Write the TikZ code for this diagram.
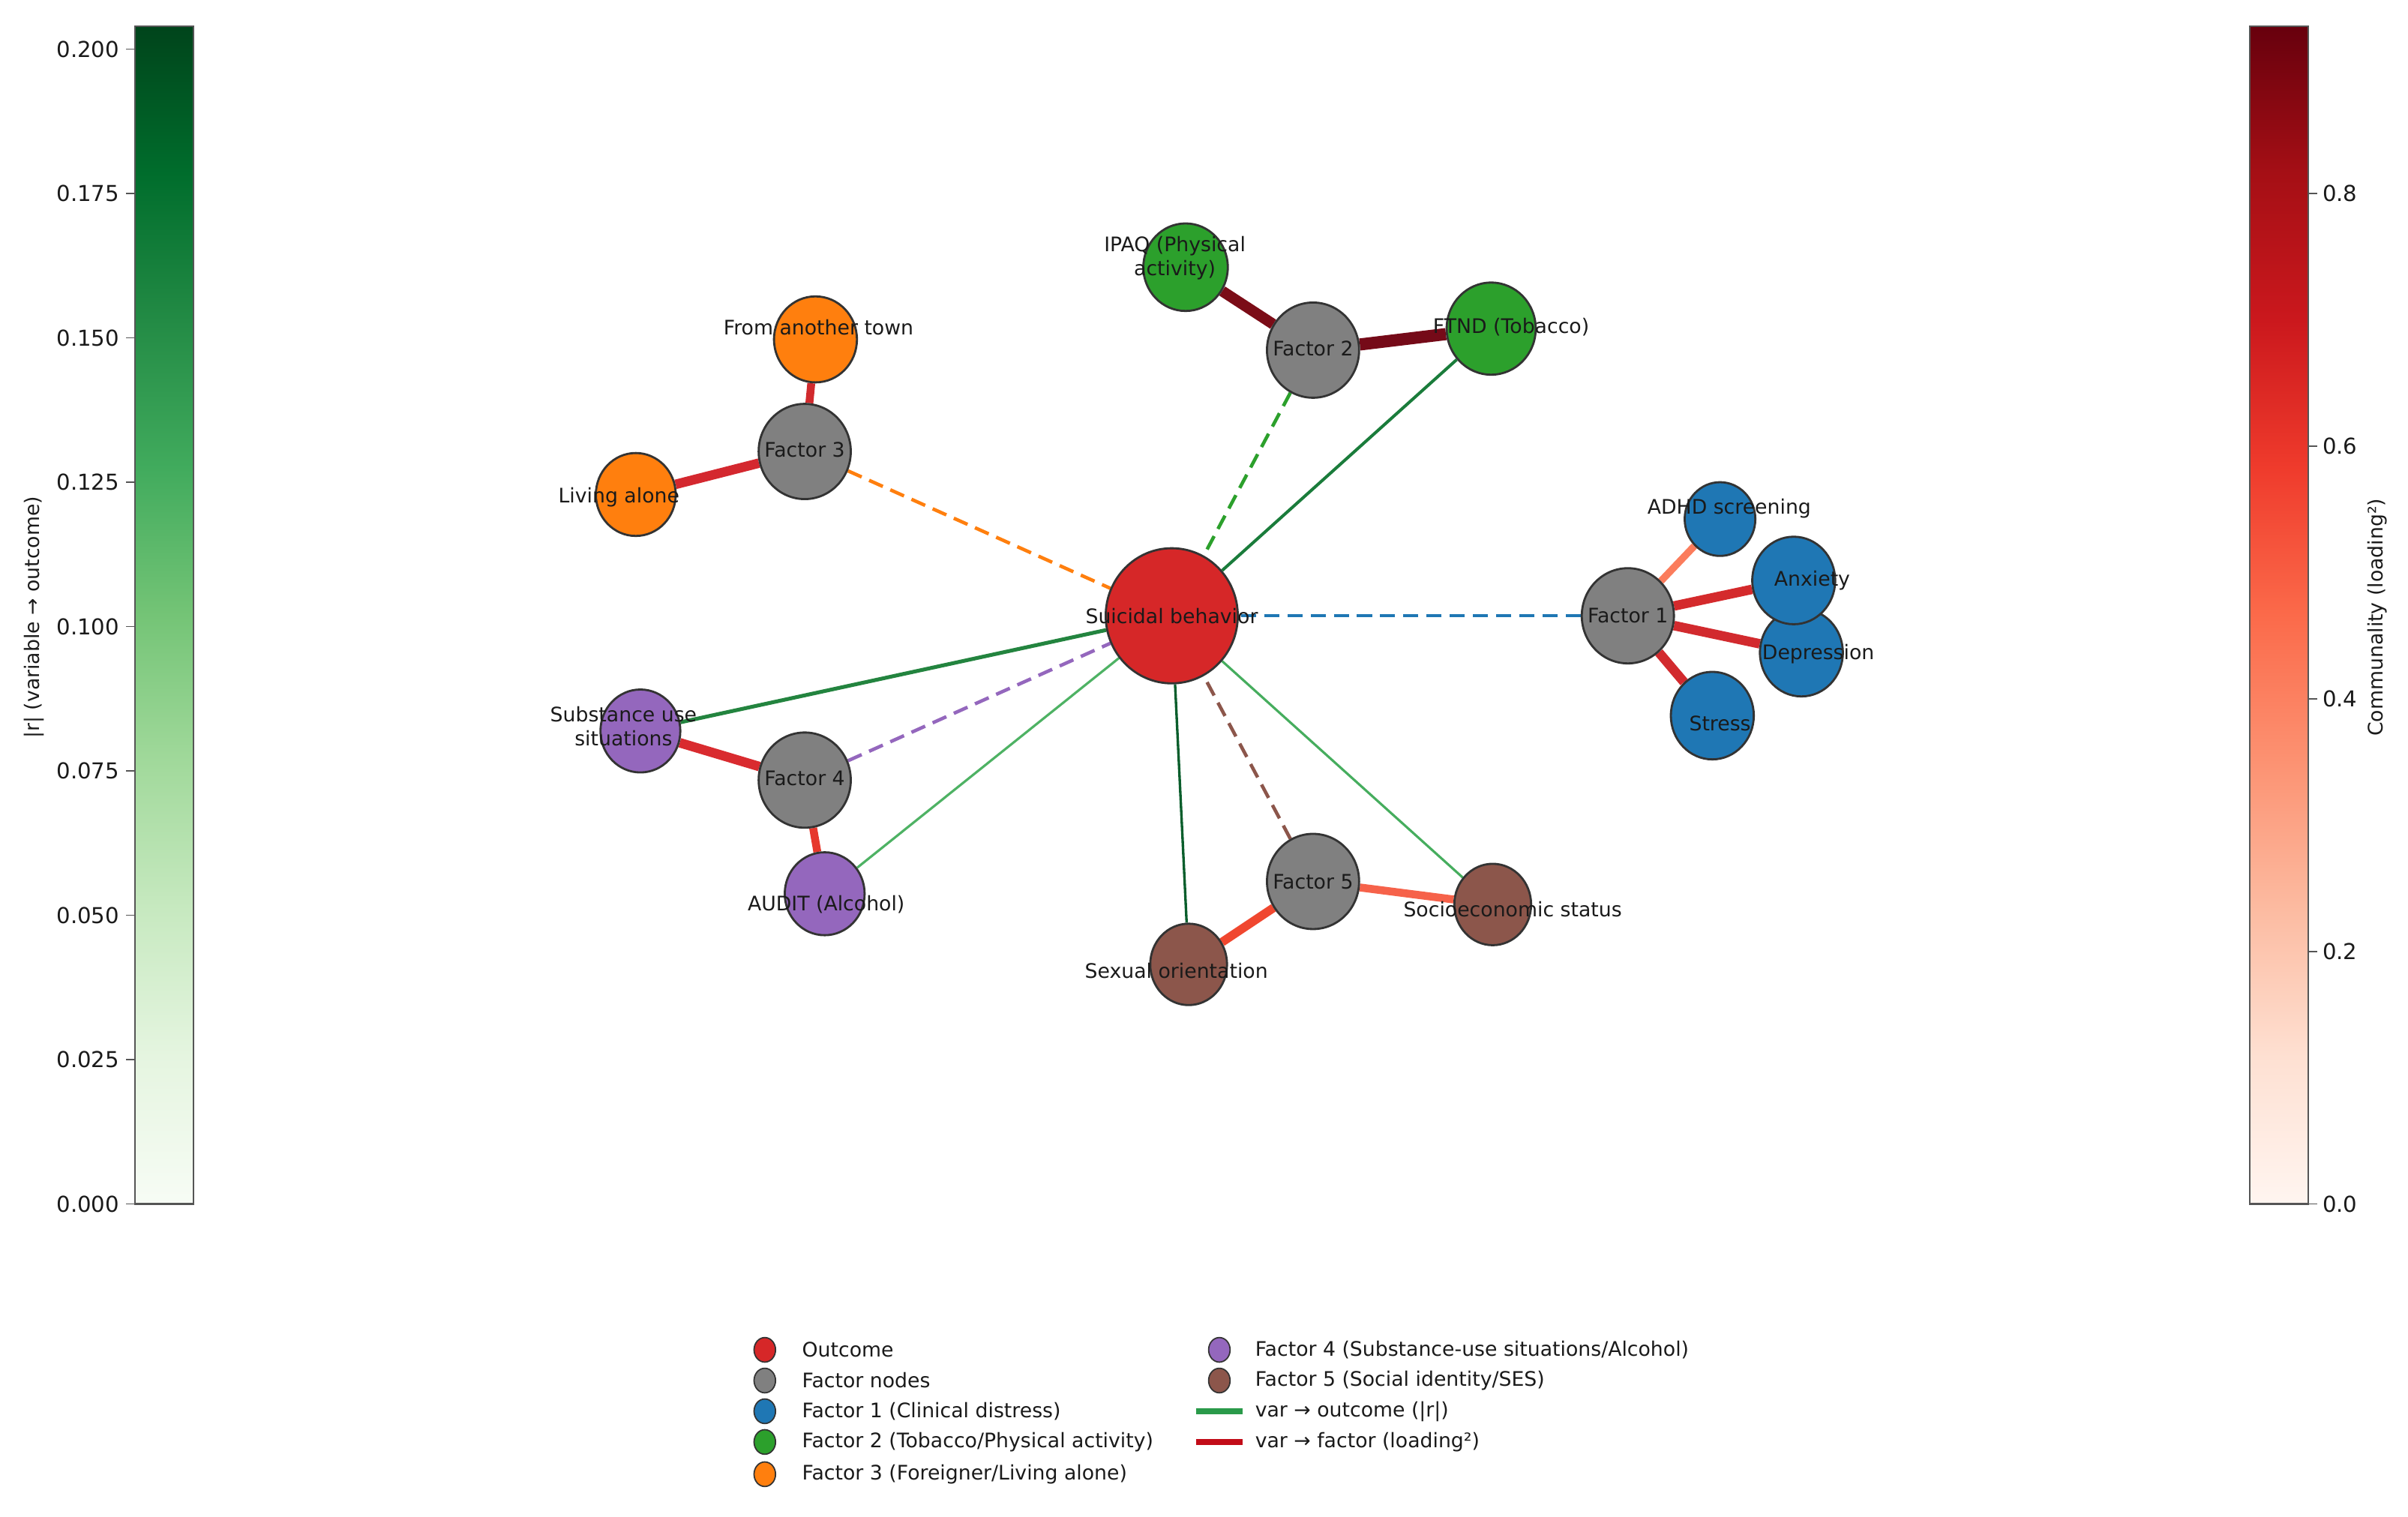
\documentclass[tikz,border=0pt]{standalone}
\usepackage{fontspec}
\setmainfont{DejaVu Sans}
\usetikzlibrary{shapes.geometric}
\pgfdeclarelayer{bg}
\pgfsetlayers{bg,main}
% node colours
\definecolor{outred}{HTML}{D62728}
\definecolor{facgray}{HTML}{808080}
\definecolor{fblue}{HTML}{1F77B4}
\definecolor{fgreen}{HTML}{2CA02C}
\definecolor{forange}{HTML}{FF7F0E}
\definecolor{fpurple}{HTML}{9467BD}
\definecolor{fbrown}{HTML}{8C564B}
\definecolor{nodeedge}{HTML}{333333}
% Greens
\definecolor{gA}{HTML}{F7FCF5}\definecolor{gB}{HTML}{E5F5E0}\definecolor{gC}{HTML}{C7E9C0}
\definecolor{gD}{HTML}{A1D99B}\definecolor{gE}{HTML}{74C476}\definecolor{gF}{HTML}{41AB5D}
\definecolor{gG}{HTML}{238B45}\definecolor{gH}{HTML}{006D2C}\definecolor{gI}{HTML}{00441B}
% Reds
\definecolor{rA}{HTML}{FFF5F0}\definecolor{rB}{HTML}{FEE0D2}\definecolor{rC}{HTML}{FCBBA1}
\definecolor{rD}{HTML}{FC9272}\definecolor{rE}{HTML}{FB6A4A}\definecolor{rF}{HTML}{EF3B2C}
\definecolor{rG}{HTML}{CB181D}\definecolor{rH}{HTML}{A50F15}\definecolor{rI}{HTML}{67000D}
% edge colours
\definecolor{oeSub}{HTML}{23843F}
\definecolor{oeAudit}{HTML}{4EB264}
\definecolor{oeFtnd}{HTML}{1A7C3B}
\definecolor{oeSex}{HTML}{0A5E2C}
\definecolor{oeSes}{HTML}{46AD5E}
\definecolor{leIpaq}{HTML}{7B0C17}
\definecolor{leFtnd}{HTML}{750A18}
\definecolor{leTown}{HTML}{D12A2D}
\definecolor{leAlone}{HTML}{D4282F}
\definecolor{leAdhd}{HTML}{FB7C5C}
\definecolor{leAnx}{HTML}{D42A2C}
\definecolor{leDep}{HTML}{D22A2E}
\definecolor{leStress}{HTML}{D22A2E}
\definecolor{leSub}{HTML}{D92B2F}
\definecolor{leAudit}{HTML}{E6382D}
\definecolor{leSex}{HTML}{F0472F}
\definecolor{leSes}{HTML}{F6624A}
\definecolor{legG}{HTML}{2A9A4A}
\definecolor{legR}{HTML}{C20C18}
\definecolor{txt}{HTML}{1A1A1A}
\definecolor{cbedge}{HTML}{555555}

\pgfdeclareverticalshading{greensbar}{100bp}{color(0bp)=(gA); color(25bp)=(gA); color(31.25bp)=(gB); color(37.5bp)=(gC); color(43.75bp)=(gD); color(50bp)=(gE); color(56.25bp)=(gF); color(62.5bp)=(gG); color(68.75bp)=(gH); color(75bp)=(gI); color(100bp)=(gI)}
\pgfdeclareverticalshading{redsbar}{100bp}{color(0bp)=(rA); color(25bp)=(rA); color(31.25bp)=(rB); color(37.5bp)=(rC); color(43.75bp)=(rD); color(50bp)=(rE); color(56.25bp)=(rF); color(62.5bp)=(rG); color(68.75bp)=(rH); color(75bp)=(rI); color(100bp)=(rI)}

\tikzset{
  nd/.style={ellipse, draw=nodeedge, line width=0.8pt, inner sep=0pt},
  sz/.style 2 args={minimum width=#1*0.02048cm, minimum height=#2*0.02048cm},
  lbl/.style={font=\fontsize{7.6}{9.3}\selectfont, text=txt, align=center, inner sep=0pt},
  ticklbl/.style={font=\fontsize{8.3}{10}\selectfont, text=txt, inner sep=0pt},
  outedge/.style={line width=#1},
  loadedge/.style={line width=#1},
  facdash/.style={line width=1.3pt, dash pattern=on 5.7pt off 3.1pt},
  tickmark/.style={draw=cbedge, line width=0.5pt}
}

\begin{document}
\begin{tikzpicture}[x=0.02048cm, y=-0.02048cm]
\useasboundingbox (0,0) rectangle (1568,987.4);

% ---------------- colour bars ----------------
\shade[shading=greensbar] (88,17) rectangle (126,784);
\draw[cbedge, line width=0.6pt] (88,17) rectangle (126,784);
\foreach \v/\y in {0.000/784,0.025/690,0.050/596,0.075/502,0.100/408,0.125/314,0.150/220,0.175/126,0.200/32}{
  \draw[tickmark] (88,\y) -- (82,\y);
  \node[ticklbl, anchor=east] at (78,\y) {\v};
}
\node[lbl, rotate=90] (cbgl) at (22,402) {|r| (variable → outcome)};

\shade[shading=redsbar] (1465,17) rectangle (1503,784);
\draw[cbedge, line width=0.6pt] (1465,17) rectangle (1503,784);
\foreach \v/\y in {0.0/784,0.2/619.5,0.4/455,0.6/290.5,0.8/126}{
  \draw[tickmark] (1503,\y) -- (1509,\y);
  \node[ticklbl, anchor=west] at (1512,\y) {\v};
}
\node[lbl, rotate=90] (cbrl) at (1548,402) {Communality (loading²)};

% ---------------- nodes ----------------
\node[nd, sz={86}{88}, fill=outred] (sb) at (763,401) {};
\node[nd, sz={60}{62}, fill=facgray] (f1) at (1060,401) {};
\node[nd, sz={60}{62}, fill=facgray] (f2) at (855,228) {};
\node[nd, sz={60}{62}, fill=facgray] (f3) at (524,294) {};
\node[nd, sz={60}{62}, fill=facgray] (f4) at (524,508) {};
\node[nd, sz={60}{62}, fill=facgray] (f5) at (855,574) {};

\node[nd, sz={46}{48}, fill=fblue] (adhd) at (1120,338) {};
\node[nd, sz={54}{57}, fill=fblue] (dep) at (1173,425) {};
\node[nd, sz={54}{57}, fill=fblue] (anx) at (1168,378) {};
\node[nd, sz={54}{57}, fill=fblue] (stress) at (1115,466) {};

\node[nd, sz={55}{57}, fill=fgreen] (ipaq) at (772,174) {};
\node[nd, sz={58}{60}, fill=fgreen] (ftnd) at (971,214) {};

\node[nd, sz={54}{56}, fill=forange] (town) at (531,221) {};
\node[nd, sz={52}{54}, fill=forange] (alone) at (414,322) {};

\node[nd, sz={52}{54}, fill=fpurple] (sub) at (417,476) {};
\node[nd, sz={52}{54}, fill=fpurple] (audit) at (537,582) {};

\node[nd, sz={50}{53}, fill=fbrown] (sex) at (774,628) {};
\node[nd, sz={50}{53}, fill=fbrown] (ses) at (972,589) {};

% ---------------- edges ----------------
\begin{pgfonlayer}{bg}
  % variable -> outcome
  \draw[outedge=1.45pt, oeSub] (sub) -- (sb);
  \draw[outedge=0.9pt, oeAudit] (audit) -- (sb);
  \draw[outedge=1.15pt, oeFtnd] (ftnd) -- (sb);
  \draw[outedge=0.95pt, oeSex] (sex) -- (sb);
  \draw[outedge=0.9pt, oeSes] (ses) -- (sb);
  % factor -> outcome
  \draw[facdash, fblue] (f1) -- (sb);
  \draw[facdash, fgreen] (f2) -- (sb);
  \draw[facdash, forange] (f3) -- (sb);
  \draw[facdash, fpurple] (f4) -- (sb);
  \draw[facdash, fbrown] (f5) -- (sb);
  % variable -> factor
  \draw[loadedge=4.1pt, leIpaq] (f2) -- (ipaq);
  \draw[loadedge=4.6pt, leFtnd] (f2) -- (ftnd);
  \draw[loadedge=3.0pt, leTown] (f3) -- (town);
  \draw[loadedge=3.6pt, leAlone] (f3) -- (alone);
  \draw[loadedge=2.7pt, leAdhd] (f1) -- (adhd);
  \draw[loadedge=3.6pt, leAnx] (f1) -- (anx);
  \draw[loadedge=3.6pt, leDep] (f1) -- (dep);
  \draw[loadedge=3.6pt, leStress] (f1) -- (stress);
  \draw[loadedge=3.6pt, leSub] (f4) -- (sub);
  \draw[loadedge=3.0pt, leAudit] (f4) -- (audit);
  \draw[loadedge=3.3pt, leSex] (f5) -- (sex);
  \draw[loadedge=3.0pt, leSes] (f5) -- (ses);
\end{pgfonlayer}

% ---------------- labels ----------------
\node[lbl] (sbl) at (763,401) {Suicidal behavior};
\node[lbl] (f1l) at (1060,401) {Factor 1};
\node[lbl] (f2l) at (855,227) {Factor 2};
\node[lbl] (f3l) at (524,293) {Factor 3};
\node[lbl] (f4l) at (524,507) {Factor 4};
\node[lbl] (f5l) at (855,574) {Factor 5};
\node[lbl] (ipaql) at (765,168) {IPAQ (Physical\\activity)};
\node[lbl] (ftndl) at (984,213) {FTND (Tobacco)};
\node[lbl] (townl) at (533,213) {From another town};
\node[lbl] (alonel) at (403,324) {Living alone};
\node[lbl] (subl) at (406,473) {Substance use\\situations};
\node[lbl] (auditl) at (538,589) {AUDIT (Alcohol)};
\node[lbl] (sexl) at (766,632) {Sexual orientation};
\node[lbl] (sesl) at (985,592) {Socioeconomic status};
\node[lbl] (adhdl) at (1126,331) {ADHD screening};
\node[lbl] (anxl) at (1180,378) {Anxiety};
\node[lbl] (depl) at (1184,426) {Depression};
\node[lbl] (stressl) at (1120,471) {Stress};

% ---------------- legend ----------------
\node[nd, sz={14}{16}, line width=0.5pt, fill=outred] (lg1) at (498,879) {};
\node[nd, sz={14}{16}, line width=0.5pt, fill=facgray] (lg2) at (498,899) {};
\node[nd, sz={14}{16}, line width=0.5pt, fill=fblue] (lg3) at (498,919) {};
\node[nd, sz={14}{16}, line width=0.5pt, fill=fgreen] (lg4) at (498,939) {};
\node[nd, sz={14}{16}, line width=0.5pt, fill=forange] (lg5) at (498,960) {};
\node[nd, sz={14}{16}, line width=0.5pt, fill=fpurple] (lg6) at (794,879) {};
\node[nd, sz={14}{16}, line width=0.5pt, fill=fbrown] (lg7) at (794,899) {};
\coordinate (lg8a) at (779,919); \coordinate (lg8b) at (809,919);
\coordinate (lg9a) at (779,939); \coordinate (lg9b) at (809,939);
\draw[line width=2.3pt, legG] (lg8a) -- (lg8b);
\draw[line width=2.3pt, legR] (lg9a) -- (lg9b);
\node[lbl, anchor=west] (lt1) at (522,879) {Outcome};
\node[lbl, anchor=west] (lt2) at (522,899) {Factor nodes};
\node[lbl, anchor=west] (lt3) at (522,919) {Factor 1 (Clinical distress)};
\node[lbl, anchor=west] (lt4) at (522,939) {Factor 2 (Tobacco/Physical activity)};
\node[lbl, anchor=west] (lt5) at (522,960) {Factor 3 (Foreigner/Living alone)};
\node[lbl, anchor=west] (lt6) at (817,879) {Factor 4 (Substance-use situations/Alcohol)};
\node[lbl, anchor=west] (lt7) at (817,899) {Factor 5 (Social identity/SES)};
\node[lbl, anchor=west] (lt8) at (817,919) {var → outcome (|r|)};
\node[lbl, anchor=west] (lt9) at (817,939) {var → factor (loading²)};
\end{tikzpicture}
\end{document}
